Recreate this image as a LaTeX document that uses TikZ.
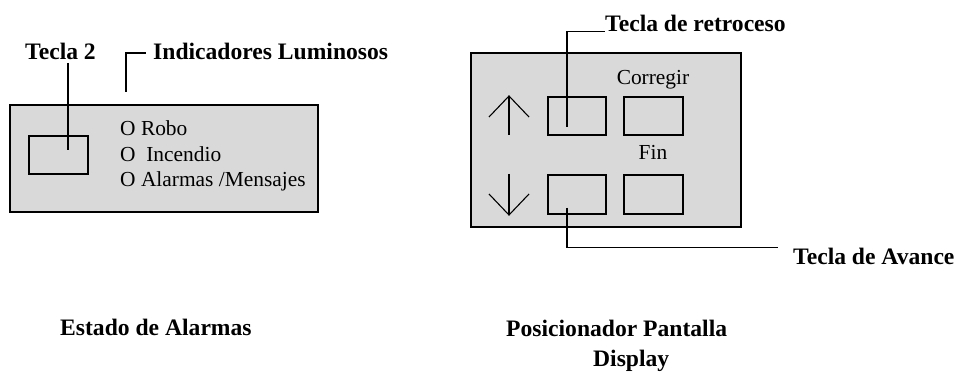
\documentclass[tikz,border=0pt]{standalone}
\usepackage{fontspec}
\setmainfont{Liberation Serif}
\begin{document}
\begin{tikzpicture}[x=1pt,y=-1pt,
  panel/.style={draw=black,line width=1.3pt,fill=black!15},
  keybox/.style={draw=black,line width=1.1pt},
  wire/.style={draw=black,line width=1.1pt},
  blabel/.style={font=\fontsize{23.6}{27}\selectfont\bfseries,inner sep=0pt,anchor=base west},
  rlabel/.style={font=\fontsize{21.4}{25}\selectfont,inner sep=0pt,anchor=base west},
  clabel/.style={font=\fontsize{21.4}{25}\selectfont,inner sep=0pt,anchor=base}]
\useasboundingbox (0,0) rectangle (962,379);
% left panel
\draw[panel] (10,105) rectangle (318,212);
\draw[keybox] (29,136) rectangle (88,174);
\node[rlabel] (robo) at (120,136) {O Robo};
\node[rlabel] (inc) at (120,162) {O\ \ Incendio};
\node[rlabel] (alm) at (120,187) {O Alarmas /Mensajes};
\node[blabel] (t2) at (25,60) {Tecla 2};
\node[blabel] (ind) at (153,60) {Indicadores Luminosos};
\coordinate (t2a) at (68,63);
\coordinate (t2b) at (68,150);
\draw[wire] (t2a) -- (t2b);
\coordinate (ia) at (126,92);
\coordinate (ib) at (146,53);
\draw[wire] (ia) |- (ib);
% right panel
\draw[panel] (471,53) rectangle (741,227);
\draw[keybox] (548,97) rectangle (606,135);
\draw[keybox] (624,97) rectangle (683,135);
\draw[keybox] (548,175) rectangle (606,214);
\draw[keybox] (624,175) rectangle (683,214);
\node[clabel] (cor) at (653,85) {Corregir};
\node[clabel] (fin) at (653,160) {Fin};
% arrows
\draw[wire] (509,135) -- (509,96);
\draw[wire] (489,117) -- (509,96) -- (529,117);
\draw[wire] (509,174) -- (509,215);
\draw[wire] (489,194) -- (509,215) -- (529,194);
\node[blabel] (ret) at (605,32) {Tecla de retroceso};
\coordinate (ra) at (567,127);
\coordinate (rb) at (605,31.5);
\draw[wire] (ra) |- (rb);
\node[blabel] (ava) at (793,265) {Tecla de Avance};
\coordinate (aa) at (567,208);
\coordinate (ab) at (778,247.5);
\draw[wire] (aa) |- (ab);
% bottom labels
\node[blabel] (est) at (60,336) {Estado de Alarmas};
\node[blabel] (pos) at (506,337) {Posicionador Pantalla};
\node[blabel] (dis) at (593,367) {Display};
\end{tikzpicture}
\end{document}
